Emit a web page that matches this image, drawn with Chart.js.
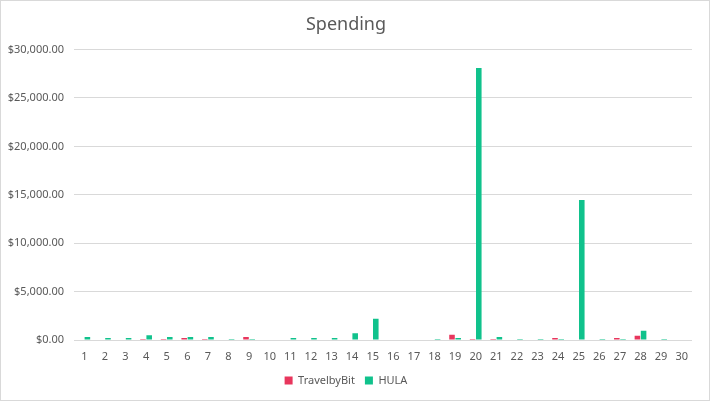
<!DOCTYPE html>
<html>
<head>
<meta charset="utf-8">
<script src="https://cdn.jsdelivr.net/npm/chart.js@4"></script>
<style>
  html,body{margin:0;padding:0;background:#fff;}
  #wrap{position:relative;width:710px;height:401px;}
  #frame{position:absolute;left:0;top:0;width:708px;height:399px;border:1px solid #d9d9d9;pointer-events:none;}
</style>
</head>
<body>
<div id="wrap">
  <canvas id="spend"></canvas>
  <div id="frame"></div>
</div>
<script>
// ── data ──
var days = ['1','2','3','4','5','6','7','8','9','10','11','12','13','14','15','16','17','18','19','20','21','22','23','24','25','26','27','28','29','30'];
var travelbybit = [0,0,0,100,100,200,100,0,300,0,0,0,0,0,0,0,0,0,550,100,100,0,0,200,0,0,200,450,0,0];
var hula = [300,200,200,500,300,300,300,100,100,0,200,200,200,700,2200,0,0,100,200,28100,300,100,100,100,14450,100,100,950,100,0];
var yTicks = [0,5000,10000,15000,20000,25000,30000];

var FONT = '"Noto Sans", "Open Sans", sans-serif';

function money(v){
  return '$' + Number(v).toLocaleString('en-US',{minimumFractionDigits:2,maximumFractionDigits:2});
}

new Chart(document.getElementById('spend'),{
  type:'bar',
  data:{
    labels:days,
    datasets:[
      {label:'TravelbyBit',data:travelbybit,backgroundColor:'#e8365d',categoryPercentage:0.6,barPercentage:0.9},
      {label:'HULA',data:hula,backgroundColor:'#10c28c',categoryPercentage:0.6,barPercentage:0.9}
    ]
  },
  options:{
    responsive:true,
    maintainAspectRatio:false,
    animation:false,
    layout:{padding:{top:8,left:0,right:18,bottom:5}},
    plugins:{
      title:{display:true,text:'Spending',color:'#595959',font:{family:FONT,size:18,weight:'normal'},padding:{top:6,bottom:14}},
      legend:{position:'bottom',labels:{boxWidth:8,boxHeight:8,color:'#595959',font:{family:FONT,size:11},padding:10}},
      tooltip:{enabled:false}
    },
    scales:{
      x:{
        grid:{display:false},
        border:{display:false},
        ticks:{color:'#595959',font:{family:FONT,size:11},padding:2,maxRotation:0,autoSkip:false},
        afterFit:function(s){s.height=25;}
      },
      y:{
        min:0,max:30000,
        grid:{color:'#d9d9d9',drawTicks:false},
        border:{display:false},
        afterBuildTicks:function(s){s.ticks=yTicks.map(function(v){return {value:v};});},
        ticks:{color:'#595959',font:{family:FONT,size:11},padding:10,callback:function(v){return money(v);}},
        afterFit:function(s){s.width=74;}
      }
    }
  }
});
</script>
</body>
</html>
